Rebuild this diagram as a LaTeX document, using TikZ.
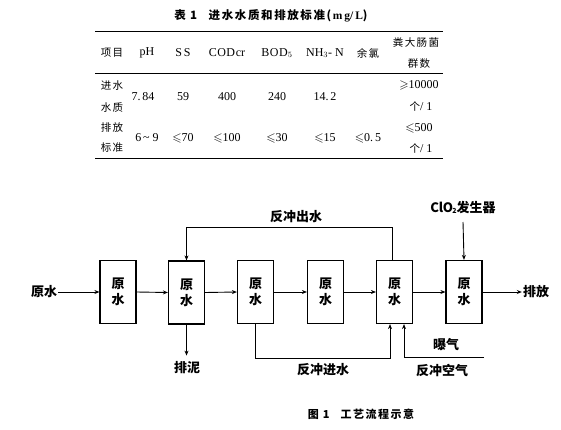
\documentclass[tikz,border=0pt]{standalone}
\usepackage{fontspec}
\setmainfont{Liberation Serif}
\newfontfamily\cjk{Noto Sans CJK SC}
\newfontfamily\cjkwide[LetterSpace=14]{Noto Sans CJK SC}
\usepackage{amssymb}
\usetikzlibrary{arrows.meta}
\begin{document}
\begin{tikzpicture}[x=1pt,y=-1pt,
  tb/.style={font=\fontsize{12}{13}\selectfont, inner sep=0pt, anchor=center},
  tcj/.style={font=\cjkwide\fontsize{10.5}{12}\selectfont, inner sep=0pt, anchor=center},
  rule/.style={line width=0.9pt},
  unit/.style={draw, line width=1.2pt, minimum width=36pt, minimum height=63pt, inner sep=0pt,
    font=\cjk\bfseries\fontsize{13}{16}\selectfont, align=center},
  lbl/.style={font=\cjk\bfseries\fontsize{13}{15}\selectfont, inner sep=1pt},
  flow/.style={line width=0.9pt, -{Stealth[length=5pt,width=4pt]}}]
\useasboundingbox (0,0) rectangle (561,430);
% ---------- table ----------
\node[font=\cjkwide\bfseries\fontsize{11.5}{12}\selectfont, inner sep=0pt] (title) at (271,16)
  {表 1\quad 进水水质和排放标准(\textrm{m\,g/\,L})};
\draw[rule] (95,31) -- (443,31);
\draw[line width=0.7pt] (95,73) -- (443,73);
\draw[rule] (95,158) -- (443,158);
% header
\node[tcj] (h1) at (112,53) {项目};
\node[tb] (h2) at (147,53) {pH};
\node[tb] (h3) at (183,53) {S\,S};
\node[tb] (h4) at (227,53) {C\kern0.5pt O\kern0.5pt D\kern0.8pt cr};
\node[tb] (h5) at (277,53) {B\kern0.5pt O\kern0.5pt D$_5$};
\node[tb] (h6) at (325,53) {NH$_3$-\ N};
\node[tcj] (h7) at (368,53) {余氯};
\node[tcj] (h8a) at (416,43) {粪大肠菌};
\node[tcj] (h8b) at (419,64) {群数};
% row 1
\node[tcj] (r1a) at (112,86) {进水};
\node[tcj] (r1b) at (112,108) {水质};
\node[tb] (r1c) at (143,97) {7.\,84};
\node[tb] (r1d) at (183,97) {59};
\node[tb] (r1e) at (227,97) {400};
\node[tb] (r1f) at (277,97) {240};
\node[tb] (r1g) at (325,97) {14.\,2};
\node[tb] (r1h) at (419,85) {$\geqslant$10000};
\node[tb] (r1i) at (421,107) {\cjk\fontsize{10.5}{12}\selectfont 个\rmfamily\fontsize{12}{13}\selectfont/ 1};
% row 2
\node[tcj] (r2a) at (112,128) {排放};
\node[tcj] (r2b) at (112,148) {标准};
\node[tb] (r2c) at (147,138) {6\,\textasciitilde\ 9};
\node[tb] (r2d) at (183,138) {$\leqslant$70};
\node[tb] (r2e) at (227,138) {$\leqslant$100};
\node[tb] (r2f) at (277,138) {$\leqslant$30};
\node[tb] (r2g) at (325,138) {$\leqslant$15};
\node[tb] (r2h) at (368,138) {$\leqslant$0.\,5};
\node[tb] (r2i) at (419,128) {$\leqslant$500};
\node[tb] (r2j) at (421,149) {\cjk\fontsize{10.5}{12}\selectfont 个\rmfamily\fontsize{12}{13}\selectfont/ 1};
% ---------- flow diagram ----------
\node[unit] (b1) at (118,292) {原\\水};
\node[unit] (b2) at (186.5,292.5) {原\\水};
\node[unit] (b3) at (255.5,292) {原\\水};
\node[unit] (b4) at (325.5,292) {原\\水};
\node[unit] (b5) at (394.5,292) {原\\水};
\node[unit] (b6) at (464,292) {原\\水};
\node[lbl] (in) at (44,292) {原水};
\node[lbl] (out) at (536,292) {排放};
\node[lbl] (mud) at (187,368) {排泥};
\node[lbl] (bwo) at (296,217) {反冲出水};
\node[lbl] (bwi) at (323,370) {反冲进水};
\node[lbl] (bwa) at (442,370) {反冲空气};
\node[lbl] (aer) at (446,345) {曝气};
\node[lbl] (clo) at (463,208) {Cl\kern-0.5pt O\kern-0.5pt\raisebox{-1pt}{\scriptsize 2}发生器};
\coordinate (clotop) at (463,222);
\coordinate (airin) at (484,357);
\draw[flow] (in.east) -- (b1.west);
\draw[flow] (b1.east) -- (b2.west);
\draw[flow] (b2.east) -- (b3.west);
\draw[flow] (b3.east) -- (b4.west);
\draw[flow] (b4.east) -- (b5.west);
\draw[flow] (b5.east) -- (b6.west);
\draw[flow] (b6.east) -- (out.west);
\draw[flow] (clotop) -- (b6.north);
\draw[flow] ([xshift=-2.5pt]b5.north) -- ++(0,-32) -| (b2.north);
\draw[flow] (b2.south) -- ++(0,31);
\draw[flow] (b3.south) -- ++(0,34) -| ([xshift=-4.5pt]b5.south);
\draw[flow] (airin) -| ([xshift=9.5pt]b5.south);
% caption
\node[font=\cjkwide\bfseries\fontsize{11}{12}\selectfont, inner sep=0pt] (cap) at (361,414) {图 1\quad 工艺流程示意};
\end{tikzpicture}
\end{document}
